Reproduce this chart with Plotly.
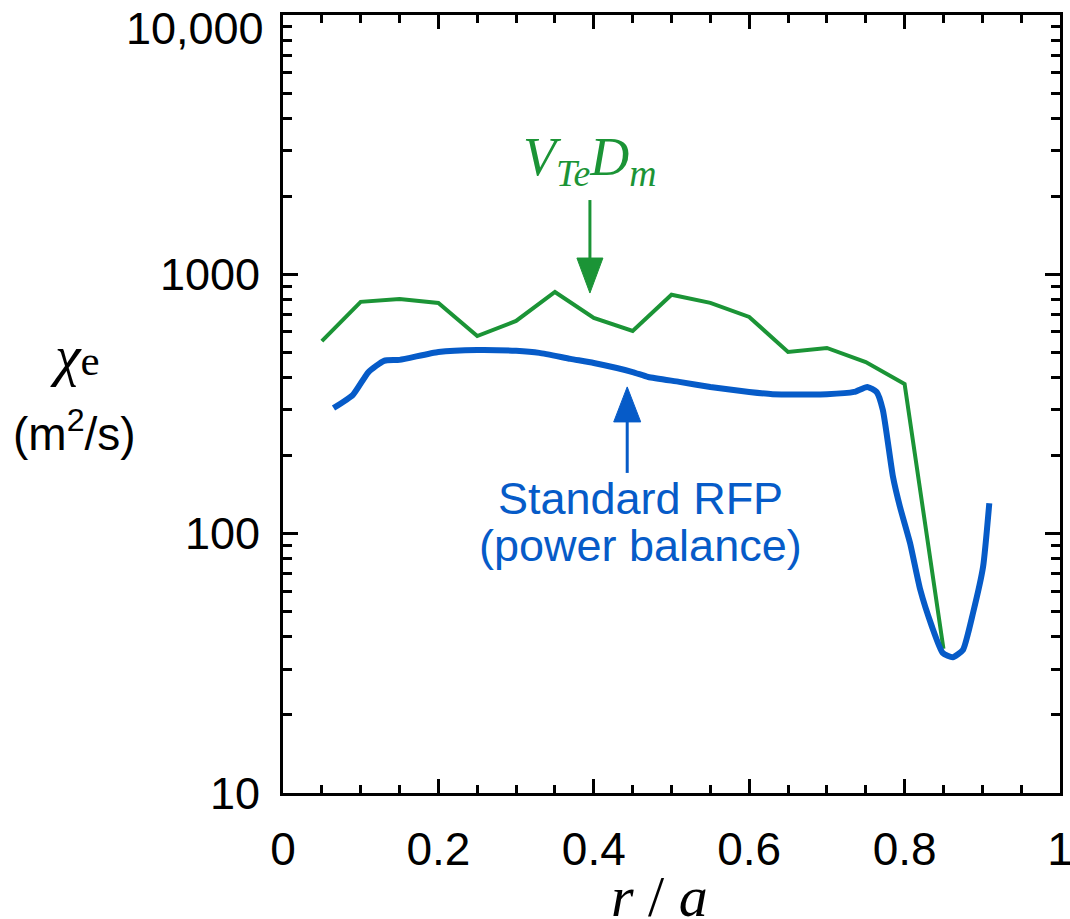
import plotly.graph_objects as go

# ---- data ----
green_r = [0.05, 0.10, 0.15, 0.20, 0.25, 0.30, 0.35, 0.40, 0.45, 0.50,
           0.55, 0.60, 0.65, 0.70, 0.75, 0.80, 0.85]
green_chi = [553, 783, 804, 776, 578, 661, 855, 679, 605, 834,
             776, 685, 502, 520, 459, 378, 36]

blue_r = [0.065, 0.09, 0.11, 0.13, 0.15, 0.20, 0.25, 0.30, 0.33, 0.37,
          0.40, 0.45, 0.47, 0.51, 0.55, 0.60, 0.63, 0.70, 0.735, 0.752,
          0.764, 0.772, 0.785, 0.794, 0.807, 0.820, 0.835, 0.849, 0.862,
          0.875, 0.888, 0.901, 0.909]
blue_chi = [305, 343, 420, 464, 468, 502, 511, 507, 498, 472,
            455, 420, 402, 385, 368, 352, 345, 345, 352, 368,
            352, 300, 166, 127, 92, 61, 44, 34.7, 33.4,
            35.6, 49.4, 74.5, 131]

y_tickvals = [10, 100, 1000, 10000]
y_ticktext = ["10", "100", "1000", ""]   # top label drawn below as annotation (shifted inside like the original)
top_label = "10,000"
y_minor = [m * d for d in (10, 100, 1000) for m in range(2, 10)]

GREEN = "#1b9436"
BLUE = "#065bc8"
SANS = "Liberation Sans, Arial, sans-serif"
SERIF = "Liberation Serif, Times New Roman, serif"

fig = go.Figure()
fig.add_trace(go.Scatter(x=green_r, y=green_chi, mode="lines",
                         line=dict(color=GREEN, width=4), showlegend=False))
fig.add_trace(go.Scatter(x=blue_r, y=blue_chi, mode="lines",
                         line=dict(color=BLUE, width=6, shape="spline", smoothing=0.5),
                         showlegend=False))

axis_common = dict(showline=True, linewidth=3, linecolor="black", mirror="ticks",
                   ticks="inside", tickwidth=3, tickcolor="black",
                   showgrid=False, zeroline=False, automargin=False)

fig.update_xaxes(range=[0, 1], dtick=0.2, tick0=0, ticklen=14,
                 minor=dict(ticks="inside", dtick=0.05, ticklen=8, tickwidth=3,
                            tickcolor="black", showgrid=False),
                 ticklabelstandoff=14, ticklabeloverflow="allow",
                 tickfont=dict(family=SANS, size=46, color="black"), **axis_common)
fig.update_yaxes(type="log", range=[1, 4], tickmode="array", tickvals=y_tickvals,
                 ticktext=y_ticktext, ticklen=15,
                 minor=dict(ticks="inside", tickmode="array", tickvals=y_minor,
                            ticklen=9, tickwidth=3, tickcolor="black", showgrid=False),
                 ticklabelstandoff=11,
                 tickfont=dict(family=SANS, size=45, color="black"), **axis_common)

# arrows (triangle heads + shafts, pixel-sized, anchored at data coords)
g_ax, g_ay = 0.395, 847
b_ax, b_ay = 0.443, 368
shapes = [
    dict(type="path", xref="x", yref="y", xsizemode="pixel", ysizemode="pixel",
         xanchor=g_ax, yanchor=g_ay, path="M-13,35 L13,35 L0,0 Z",
         fillcolor=GREEN, line=dict(color=GREEN, width=1)),
    dict(type="path", xref="x", yref="y", xsizemode="pixel", ysizemode="pixel",
         xanchor=g_ax, yanchor=g_ay, path="M0,34 L0,93",
         line=dict(color=GREEN, width=3)),
    dict(type="path", xref="x", yref="y", xsizemode="pixel", ysizemode="pixel",
         xanchor=b_ax, yanchor=b_ay, path="M-13.5,-35 L13.5,-35 L0,0 Z",
         fillcolor=BLUE, line=dict(color=BLUE, width=1)),
    dict(type="path", xref="x", yref="y", xsizemode="pixel", ysizemode="pixel",
         xanchor=b_ax, yanchor=b_ay, path="M0,-34 L0,-86",
         line=dict(color=BLUE, width=3)),
]

annotations = [
    dict(text=top_label, xref="paper", yref="paper", x=-0.0219, y=0.983,
         showarrow=False, xanchor="right", yanchor="middle",
         font=dict(family=SANS, size=45, color="black")),
    dict(text="<i>V<sub>Te</sub>D<sub>m</sub></i>", xref="paper", yref="paper",
         x=0.395, y=0.8125, showarrow=False, xanchor="center", yanchor="middle",
         font=dict(family=SERIF, size=54, color=GREEN)),
    dict(text="Standard RFP", xref="paper", yref="paper", x=0.4595, y=0.379,
         showarrow=False, xanchor="center", yanchor="middle",
         font=dict(family=SANS, size=45, color=BLUE)),
    dict(text="(power balance)", xref="paper", yref="paper", x=0.4595, y=0.3175,
         showarrow=False, xanchor="center", yanchor="middle",
         font=dict(family=SANS, size=45, color=BLUE)),
    dict(text="<span style='font-size:58px'><i>χ</i></span>e", xref="paper", yref="paper",
         x=-0.2677, y=0.5617, showarrow=False, xanchor="center", yanchor="middle",
         font=dict(family=SERIF, size=43, color="black")),
    dict(text="(m<sup>2</sup>/s)", xref="paper", yref="paper", x=-0.2677, y=0.4650,
         showarrow=False, xanchor="center", yanchor="middle",
         font=dict(family=SANS, size=46, color="black")),
    dict(text="<i>r</i> / <i>a</i>", xref="paper", yref="paper", x=0.485, y=-0.1324,
         showarrow=False, xanchor="center", yanchor="middle",
         font=dict(family=SERIF, size=58, color="black")),
]

fig.update_layout(width=1070, height=919, margin=dict(l=283, r=10, t=15, b=126),
                  paper_bgcolor="white", plot_bgcolor="white",
                  shapes=shapes, annotations=annotations)

fig.write_html("out.html")
